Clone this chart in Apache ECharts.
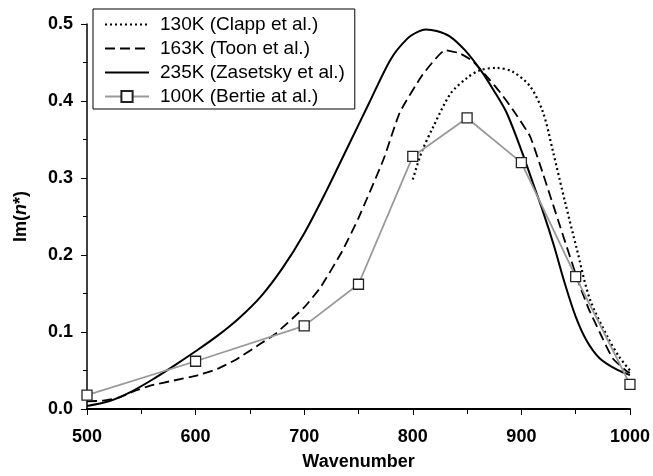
<!DOCTYPE html>
<html>
<head>
<meta charset="utf-8">
<script src="https://cdn.jsdelivr.net/npm/echarts@6/dist/echarts.min.js"></script>
<style>html,body{margin:0;padding:0;background:#fff;}#c{width:653px;height:476px;}</style>
</head>
<body>
<div id="c"></div>
<script>
// 130K (Clapp et al.)
var clappWn  = [800, 808, 819, 835, 850, 862, 877, 892, 908, 920, 929, 940, 951, 963, 980, 990, 1000];
var clappVal = [0.298, 0.333, 0.367, 0.410, 0.430, 0.440, 0.443, 0.438, 0.419, 0.385, 0.335, 0.270, 0.208, 0.143, 0.092, 0.068, 0.050];
// 163K (Toon et al.)
var toonWn  = [500, 515, 530, 545, 560, 580, 600, 620, 637, 660, 673, 700, 715, 735, 750, 773, 788, 809, 830, 843, 855, 868, 880, 892, 908, 920, 935, 952, 962, 972, 984, 997, 1000];
var toonVal = [0.010, 0.011, 0.015, 0.024, 0.031, 0.037, 0.043, 0.052, 0.064, 0.085, 0.097, 0.132, 0.158, 0.205, 0.248, 0.324, 0.385, 0.434, 0.466, 0.462, 0.452, 0.432, 0.412, 0.389, 0.354, 0.305, 0.240, 0.167, 0.130, 0.100, 0.066, 0.049, 0.047];
// 235K (Zasetsky et al.)
var zasWn  = [500, 520, 540, 560, 580, 600, 620, 640, 660, 680, 700, 720, 740, 760, 780, 795, 805, 812, 822, 834, 848, 862, 874, 886, 900, 910, 920, 930, 940, 950, 960, 972, 988, 1000];
var zasVal = [0.004, 0.010, 0.022, 0.038, 0.056, 0.075, 0.095, 0.118, 0.146, 0.183, 0.228, 0.282, 0.340, 0.398, 0.455, 0.481, 0.490, 0.493, 0.491, 0.484, 0.466, 0.441, 0.415, 0.386, 0.336, 0.296, 0.256, 0.212, 0.163, 0.120, 0.089, 0.066, 0.051, 0.044];
// 100K (Bertie at al.)
var bertieWn  = [500, 600, 700, 750, 800, 850, 900, 950, 1000];
var bertieVal = [0.018, 0.062, 0.108, 0.162, 0.328, 0.378, 0.320, 0.172, 0.032];

var seriesNames = ['130K (Clapp et al.)', '163K (Toon et al.)', '235K (Zasetsky et al.)', '100K (Bertie at al.)'];
var xTicks = [500, 600, 700, 800, 900, 1000];
var yTicks = [0.0, 0.1, 0.2, 0.3, 0.4, 0.5];

function pairs(a, b) { return a.map(function (x, i) { return [x, b[i]]; }); }

var FONT = 'Liberation Sans, Arial, sans-serif';
var chart = echarts.init(document.getElementById('c'), null, {renderer: 'canvas'});
chart.setOption({
  animation: false,
  backgroundColor: '#fff',
  grid: {left: 87, right: 23, top: 24, bottom: 65, containLabel: false},
  legend: {
    orient: 'vertical', left: 93, top: 9,
    padding: [6, 10, 3, 11],
    borderColor: '#000', borderWidth: 1,
    itemWidth: 44, itemHeight: 14, itemGap: 5,
    selectedMode: false,
    textStyle: {fontFamily: FONT, fontSize: 19, color: '#000', lineHeight: 19, padding: [0, 0, 0, 6]},
    data: [
      {name: seriesNames[0], itemStyle: {opacity: 0}},
      {name: seriesNames[1], itemStyle: {opacity: 0}},
      {name: seriesNames[2], itemStyle: {opacity: 0}},
      {name: seriesNames[3]}
    ]
  },
  xAxis: {
    type: 'value', min: xTicks[0], max: xTicks[xTicks.length - 1], interval: 100,
    name: 'Wavenumber', nameLocation: 'middle', nameGap: 44,
    nameTextStyle: {fontFamily: FONT, fontSize: 18, fontWeight: 'bold', color: '#000'},
    axisLine: {show: true, onZero: false, lineStyle: {color: '#000', width: 2}},
    axisTick: {show: true, inside: false, length: 6, lineStyle: {color: '#000', width: 1}},
    minorTick: {show: true, splitNumber: 2, length: 5, lineStyle: {color: '#000', width: 1}},
    axisLabel: {margin: 19, fontFamily: FONT, fontSize: 18, fontWeight: 'bold', color: '#000',
      formatter: function (v) { return String(v); }},
    splitLine: {show: false}, minorSplitLine: {show: false}
  },
  yAxis: {
    type: 'value', min: yTicks[0], max: yTicks[yTicks.length - 1], interval: 0.1,
    name: '{a|Im(}{i|n}{a|*)}', nameLocation: 'middle', nameGap: 57, nameRotate: 90,
    nameTextStyle: {
      fontFamily: FONT, fontSize: 18, fontWeight: 'bold', color: '#000',
      rich: {
        a: {fontFamily: FONT, fontSize: 18, fontWeight: 'bold', color: '#000'},
        i: {fontFamily: FONT, fontSize: 18, fontWeight: 'bold', fontStyle: 'italic', color: '#000'}
      }
    },
    axisLine: {show: true, onZero: false, lineStyle: {color: '#000', width: 1.5}},
    axisTick: {show: true, inside: false, length: 6, lineStyle: {color: '#000', width: 1}},
    minorTick: {show: true, splitNumber: 2, length: 4, lineStyle: {color: '#000', width: 1}},
    axisLabel: {margin: 14, fontFamily: FONT, fontSize: 18, fontWeight: 'bold', color: '#000',
      formatter: function (v) { return v.toFixed(1); }},
    splitLine: {show: false}, minorSplitLine: {show: false}
  },
  series: [
    {name: seriesNames[0], type: 'line', data: pairs(clappWn, clappVal), smooth: 0.3, symbol: 'none',
     lineStyle: {color: '#000', width: 2.2, type: [2, 3]}, itemStyle: {color: '#000'}},
    {name: seriesNames[1], type: 'line', data: pairs(toonWn, toonVal), smooth: 0.15, symbol: 'none',
     lineStyle: {color: '#000', width: 1.8, type: [10, 5]}, itemStyle: {color: '#000'}},
    {name: seriesNames[2], type: 'line', data: pairs(zasWn, zasVal), smooth: 0.3, symbol: 'none',
     lineStyle: {color: '#000', width: 2}, itemStyle: {color: '#000'}},
    {name: seriesNames[3], type: 'line', data: pairs(bertieWn, bertieVal), smooth: false,
     symbol: 'rect', symbolSize: 10, showSymbol: true,
     lineStyle: {color: '#999', width: 1.8},
     itemStyle: {color: '#fff', borderColor: '#222', borderWidth: 1.3}}
  ]
});
</script>
</body>
</html>
